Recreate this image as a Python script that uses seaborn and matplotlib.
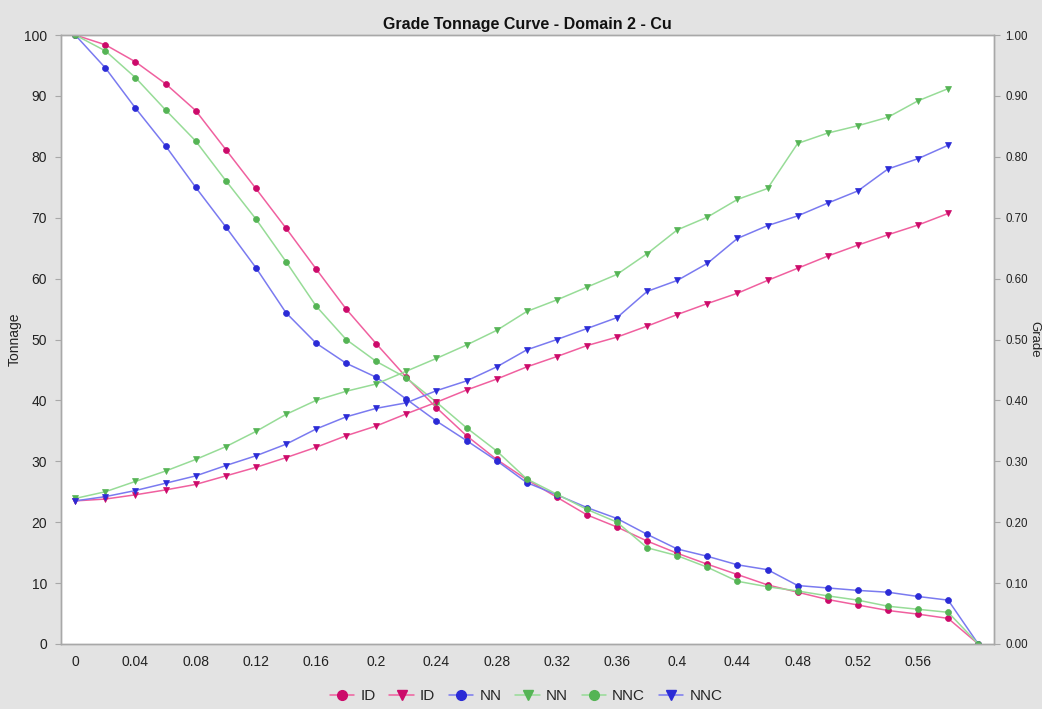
import numpy as np
import pandas as pd
import matplotlib
matplotlib.use("Agg")
import matplotlib.pyplot as plt
import seaborn as sns
from matplotlib.lines import Line2D
from matplotlib.ticker import FuncFormatter

# -----------------------------------------------------------------------------
# 0. SETUP
# -----------------------------------------------------------------------------
sns.set_theme(style="white")
plt.rcParams["font.family"] = ["Liberation Sans", "DejaVu Sans"]

# -----------------------------------------------------------------------------
# 1. DATA (cut-off grade vs tonnage % and mean grade)
# -----------------------------------------------------------------------------
cutoff = [round(0.02 * i, 2) for i in range(31)]

ton_id = [100, 98.4, 95.6, 92.0, 87.6, 81.2, 74.8, 68.3, 61.6, 55.0, 49.3, 43.8,
          38.8, 34.2, 30.3, 27.0, 24.1, 21.2, 19.2, 16.9, 14.9, 13.1, 11.4, 9.7,
          8.5, 7.3, 6.4, 5.5, 4.9, 4.2, 0]
ton_nn = [100, 94.6, 88.0, 81.8, 75.0, 68.5, 61.8, 54.4, 49.4, 46.1, 43.8, 40.2,
          36.6, 33.4, 30.1, 26.5, 24.5, 22.4, 20.6, 18.0, 15.6, 14.4, 13.0, 12.2,
          9.6, 9.2, 8.8, 8.5, 7.8, 7.2, 0]
ton_nnc = [100, 97.4, 93.0, 87.7, 82.6, 76.1, 69.8, 62.8, 55.5, 50.0, 46.4, 43.7,
           39.7, 35.5, 31.7, 27.1, 24.6, 22.1, 20.0, 15.8, 14.5, 12.6, 10.3, 9.4,
           8.7, 7.9, 7.2, 6.2, 5.7, 5.2, 0]

grade_id = [0.235, 0.238, 0.245, 0.253, 0.262, 0.276, 0.290, 0.306, 0.323, 0.342,
            0.358, 0.378, 0.397, 0.417, 0.435, 0.455, 0.472, 0.490, 0.504, 0.522,
            0.541, 0.559, 0.576, 0.597, 0.617, 0.637, 0.655, 0.672, 0.688, 0.707]
grade_nn = [0.239, 0.250, 0.267, 0.284, 0.303, 0.324, 0.349, 0.377, 0.400, 0.415,
            0.427, 0.448, 0.469, 0.491, 0.515, 0.546, 0.565, 0.586, 0.607, 0.641,
            0.680, 0.701, 0.730, 0.748, 0.822, 0.839, 0.851, 0.865, 0.892, 0.912]
grade_nnc = [0.235, 0.242, 0.252, 0.264, 0.276, 0.293, 0.309, 0.328, 0.353, 0.373,
             0.387, 0.396, 0.416, 0.432, 0.455, 0.483, 0.500, 0.518, 0.536, 0.579,
             0.597, 0.625, 0.666, 0.687, 0.703, 0.724, 0.744, 0.780, 0.797, 0.819]

# colours: (line, marker)
pink = ("#f0609f", "#cc0a6a")
blue = ("#7a7af0", "#2b2bd6")
green = ("#97dc97", "#55b455")

# -----------------------------------------------------------------------------
# 2. PLOT
# -----------------------------------------------------------------------------
fig = plt.figure(figsize=(10.42, 7.09), dpi=100, facecolor="#e3e3e3")
ax = fig.add_axes([0.0585, 0.0917, 0.8955, 0.8589])
ax.set_facecolor("white")
ax2 = ax.twinx()

def draw(axis, x, y, col, marker):
    sns.lineplot(x=x, y=y, ax=axis, color=col[0], linewidth=1.1,
                 marker=marker, markersize=4.3, markerfacecolor=col[1],
                 markeredgecolor=col[1], markeredgewidth=0.5)

grade_x = cutoff[:30]
draw(ax, cutoff, ton_id, pink, "o")
draw(ax, cutoff, ton_nn, blue, "o")
draw(ax, cutoff, ton_nnc, green, "o")
draw(ax2, grade_x, grade_id, pink, "v")
draw(ax2, grade_x, grade_nn, green, "v")
draw(ax2, grade_x, grade_nnc, blue, "v")

ax.set_xlim(-0.0095, 0.6105)
ax.set_ylim(0, 100)
ax2.set_ylim(0, 1)

ax.set_xticks(np.arange(0, 0.57, 0.04))
ax.xaxis.set_major_formatter(FuncFormatter(lambda v, p: f"{v:.2f}".rstrip("0").rstrip(".") if v else "0"))
ax.set_yticks(range(0, 101, 10))
ax2.set_yticks(np.arange(0, 1.01, 0.1))
ax2.yaxis.set_major_formatter(FuncFormatter(lambda v, p: f"{v:.2f}"))

for a in (ax, ax2):
    for s in a.spines.values():
        s.set_color("#a8a8a8")
        s.set_linewidth(1.0)
    a.tick_params(axis="both", direction="out", length=4, width=0.8,
                  color="#a8a8a8", labelcolor="#222222", labelsize=10, pad=3)
ax2.tick_params(axis="y", labelsize=8.3, pad=4)
ax.tick_params(axis="y", pad=6)
ax.tick_params(axis="x", pad=4)

ax.set_xlabel("")
ax.set_ylabel("Tonnage", fontsize=10, color="#222222", va="center")
ax.yaxis.set_label_coords(-0.049, 0.5)
ax2.set_ylabel("Grade", fontsize=9.5, color="#222222", rotation=270, va="center")
ax2.yaxis.set_label_coords(1.0435, 0.5)
ax.set_title("Grade Tonnage Curve - Domain 2 - Cu", fontsize=11.5,
             fontweight="bold", color="#111111", pad=4,
             family=["Liberation Sans Narrow", "Liberation Sans"])

# legend
def handle(col, marker):
    return Line2D([], [], color=col[0], marker=marker, markersize=7,
                  markerfacecolor=col[1], markeredgecolor=col[1], linewidth=1.1)

handles = [handle(pink, "o"), handle(pink, "v"), handle(blue, "o"),
           handle(green, "v"), handle(green, "o"), handle(blue, "v")]
labels = ["ID", "ID", "NN", "NN", "NNC", "NNC"]
fig.legend(handles, labels, loc="center", bbox_to_anchor=(0.505, 0.018),
           ncol=6, frameon=False, fontsize=11, handlelength=1.6,
           handletextpad=0.4, columnspacing=0.9)

plt.savefig("out.png", dpi=100, facecolor=fig.get_facecolor())
